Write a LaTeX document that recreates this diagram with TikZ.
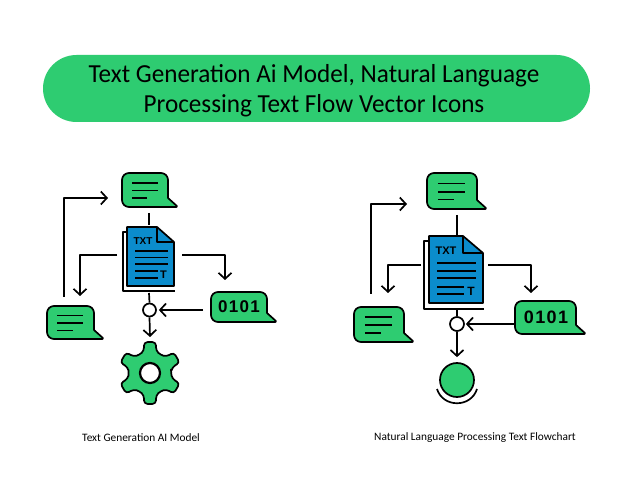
\documentclass[tikz,border=0pt]{standalone}
\usepackage{fontspec}
\setmainfont{Carlito}
\newfontfamily\iconfont{Liberation Sans}
\newfontfamily\titlefont[FakeStretch=0.968]{Carlito}
\usetikzlibrary{arrows.meta}
\definecolor{gr}{HTML}{2ECC71}
\definecolor{bl}{HTML}{0B8CCC}
\tikzset{
  ink/.style={line width=1.7pt,draw=black,line join=round},
  conn/.style={ink},
  arrowconn/.style={ink,-{Straight Barb[length=6pt,width=13pt,line width=1.7pt]}},
  anchorbox/.style={inner sep=0pt,outer sep=0pt,draw=none},
  junction/.style={circle,ink,fill=white,inner sep=0pt},
  pageline/.style={line width=1.6pt,draw=black},
  caption/.style={font=\fontsize{11.35}{13}\selectfont,text=black,inner sep=0pt},
}
% body of a speech bubble, origin at top-left of its scope
\newcommand{\bubblebody}[3]{%
  \pgfmathsetmacro{\xb}{#1-#3}\pgfmathsetmacro{\yt}{#2-9}\pgfmathsetmacro{\ym}{#2/2}%
  \draw[ink,fill=gr] (0,\ym) [rounded corners=7pt] -- (0,0) -- (\xb,0) [sharp corners] -- (\xb,\yt) [rounded corners=1.5pt] -- (#1,#2) [rounded corners=7pt] -- (0,#2) -- cycle;
}
% name, x, y, w, h
\newcommand{\msgbubble}[5]{%
  \begin{scope}[shift={(#2,#3)}]
    \bubblebody{#4}{#5}{10}
    \pgfmathsetmacro{\lx}{#4*0.18}\pgfmathsetmacro{\lr}{#4*0.64}\pgfmathsetmacro{\ls}{#4*0.45}%
    \pgfmathsetmacro{\la}{#5*0.29}\pgfmathsetmacro{\lb}{#5*0.52}\pgfmathsetmacro{\lc}{#5*0.74}%
    \draw[pageline] (\lx,\la) -- (\lr,\la) (\lx,\lb) -- (\lr,\lb) (\lx,\lc) -- (\ls,\lc);
    \pgfmathsetmacro{\cx}{#4/2}\pgfmathsetmacro{\cy}{#5/2}%
    \node[anchorbox,minimum width=#4 pt,minimum height=#5 pt] (#1) at (\cx,\cy) {};
  \end{scope}}
% name, x, y, w, h, digit centre x, digit size
\newcommand{\digitbubble}[7]{%
  \begin{scope}[shift={(#2,#3)}]
    \bubblebody{#4}{#5}{10}
    \pgfmathsetmacro{\cx}{#4/2}\pgfmathsetmacro{\cy}{#5/2}%
    \node[anchorbox,minimum width=#4 pt,minimum height=#5 pt] (#1) at (\cx,\cy) {};
    \node[anchorbox,font=\iconfont\bfseries\fontsize{#7}{#7}\selectfont] (#1txt) at (#6,\cy) {\addfontfeature{LetterSpace=8}0101};
  \end{scope}}
\begin{document}
\begin{tikzpicture}[x=1pt,y=-1pt]
\useasboundingbox (0,0) rectangle (633,500);
\fill[white] (0,0) rectangle (633,500);
% title
\node[anchorbox,fill=gr,rounded corners=33.5pt,minimum width=547pt,minimum height=67pt] (banner) at (316.5,88.5) {};
\node[anchorbox,align=center,font=\titlefont\fontsize{26}{30}\selectfont] (title) at (314,91) {Text Generation Ai Model, Natural Language\\Processing Text Flow Vector Icons};

% ---------- left diagram
\msgbubble{bubTL}{122}{173}{56}{34}
\msgbubble{bubLL}{47}{306}{57}{33}
\digitbubble{digL}{211}{292}{66}{30}{28}{17}
% document
\node[anchorbox,minimum width=52pt,minimum height=64pt] (docL) at (149,259) {};
\draw[ink] (127,232) -- (123,232) -- (123,291) -- (175,291);
\draw[ink,fill=bl] (127,227) -- (157,227) -- (174,242) -- (174,286) -- (127,286) -- cycle;
\draw[ink] (157,227) -- (157,242) -- (174,242);
\draw[pageline] (135,251) -- (168,251) (135,257.5) -- (168,257.5) (135,264) -- (168,264) (135,271) -- (158,271) (135,278) -- (158,278);
\node[anchorbox,font=\iconfont\bfseries\fontsize{10}{10}\selectfont] (txtL) at (143,241) {TXT};
\node[anchorbox,font=\iconfont\bfseries\fontsize{11}{11}\selectfont] (tL) at (163.5,275) {T};
% junction and gear
\node[junction,minimum size=13pt] (junL) at (149.5,310) {};
\node[anchorbox,minimum width=56pt,minimum height=62pt] (gearL) at (150,373) {};
\begin{scope}[shift={(150,373)}]
  \draw[ink,fill=gr,rounded corners=3.5pt] (0:21)
    \foreach \a in {30,90,150,210,270,330}{ -- (\a-15:23) -- (\a-11:31.5) -- (\a+11:31.5) -- (\a+15:23) -- (\a+30:21)} -- cycle;
  \draw[line width=2.2pt,draw=black,fill=white] (0,0) circle[radius=10];
\end{scope}
% connectors
\draw[conn] ([shift={(-1,6)}]bubTL.south) -- ([shift={(0,-2)}]docL.north);
\draw[arrowconn] ([shift={(-6,-4)}]docL.west) -| ([shift={(4.5,-10)}]bubLL.north);
\draw[arrowconn] ([shift={(-11.5,-9)}]bubLL.north) |- ([shift={(-14,8)}]bubTL.west);
\draw[arrowconn] ([shift={(7,-4)}]docL.east) -| ([shift={(-19,-12)}]digL.north);
\draw[conn] ([shift={(0,2)}]docL.south) -- (junL.north);
\draw[arrowconn] (junL.south) -- ([shift={(0,-5)}]gearL.north);
\draw[arrowconn] ([shift={(-8,3)}]digL.west) -- ([shift={(2,0)}]junL.east);

% ---------- right diagram
\msgbubble{bubTR}{427}{173}{60}{36}
\msgbubble{bubLR}{354}{307}{60}{35}
\digitbubble{digR}{515}{301}{71}{33}{31}{18}
\node[anchorbox,minimum width=60pt,minimum height=68pt] (docR) at (454,275) {};
\draw[ink] (429,241) -- (424,241) -- (424,309) -- (484,309);
\draw[ink,fill=bl] (429,236) -- (463,236) -- (483,253) -- (483,303) -- (429,303) -- cycle;
\draw[ink] (463,236) -- (463,253) -- (483,253);
\draw[pageline] (437,263) -- (476,263) (437,271) -- (476,271) (437,278) -- (476,278) (437,287) -- (464,287) (437,294) -- (464,294);
\node[anchorbox,font=\iconfont\bfseries\fontsize{11}{11}\selectfont] (txtR) at (446,251) {TXT};
\node[anchorbox,font=\iconfont\bfseries\fontsize{12}{12}\selectfont] (tR) at (471,291) {T};
\node[junction,minimum size=14pt] (junR) at (457,324) {};
\node[ink,circle,fill=gr,inner sep=0pt,minimum size=34pt] (goalR) at (457,380) {};
\draw[ink] (437,389) .. controls (443,408) and (471,408) .. (477,389);
% connectors
\draw[conn] ([shift={(0,6)}]bubTR.south) -- ([shift={(3,-5)}]docR.north);
\draw[arrowconn] ([shift={(-3,-10)}]docR.west) -| ([shift={(4,-14)}]bubLR.north);
\draw[arrowconn] ([shift={(-13,-13)}]bubLR.north) |- ([shift={(-20,13)}]bubTR.west);
\draw[arrowconn] ([shift={(4,-10)}]docR.east) -| ([shift={(-19.5,-8)}]digR.north);
\draw[conn] (docR.south -| junR.north) -- (junR.north);
\draw[arrowconn] (junR.south) -- ([shift={(0,-5)}]goalR.north);
\draw[arrowconn] ([shift={(-1,6.5)}]digR.west) -- ([shift={(1,0)}]junR.east);

% captions
\node[caption] (capL) at (141,438) {Text Generation AI Model};
\node[caption] (capR) at (475,438) {Natural Language Processing Text Flowchart};
\end{tikzpicture}
\end{document}
